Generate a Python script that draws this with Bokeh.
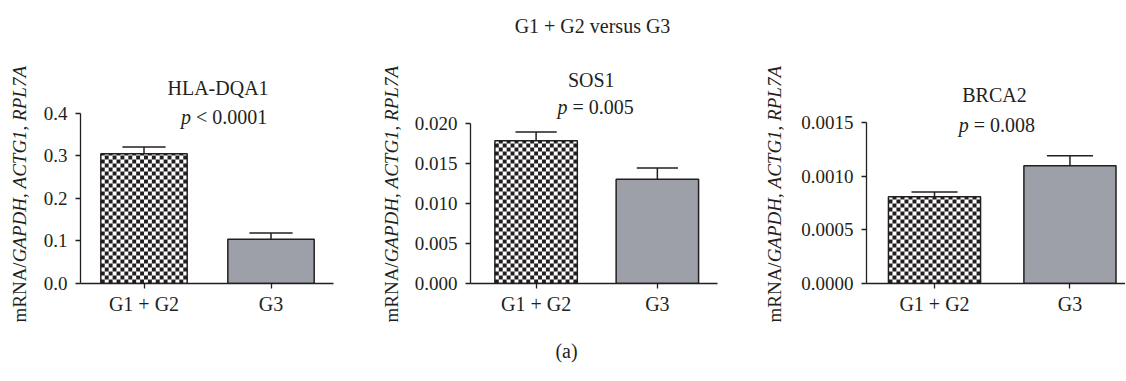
import numpy as np
from bokeh.plotting import figure
from bokeh.models import Range1d, FixedTicker, NumeralTickFormatter, Label, Div
from bokeh.layouts import column, row
from bokeh.core.properties import value
from bokeh.embed import file_html
from bokeh.resources import INLINE

# ---------------- data ----------------
groups = ["G1 + G2", "G3"]
genes = ["HLA-DQA1", "SOS1", "BRCA2"]
p_values = ["< 0.0001", "= 0.005", "= 0.008"]

hla_means = [0.305, 0.104]
hla_sem = [0.016, 0.015]
sos1_means = [0.0178, 0.0130]
sos1_sem = [0.0011, 0.0014]
brca2_means = [0.00081, 0.00110]
brca2_sem = [0.000045, 0.000093]

hla_ticks = [0.0, 0.1, 0.2, 0.3, 0.4]
sos1_ticks = [0.0, 0.005, 0.010, 0.015, 0.020]
brca2_ticks = [0.0, 0.0005, 0.0010, 0.0015]
tick_formats = ["0.0", "0.000", "0.0000"]

title_text = "G1 + G2 versus G3"
caption_text = "(a)"
ylabel_html = "mRNA/<i>GAPDH</i>, <i>ACTG1</i>, <i>RPL7A</i>"

# ---------------- style ----------------
INK = "#231f20"
GRAY = "#9da0a8"
FONT = "Liberation Serif"
EM = 20
LAB_EM = 19
# em widths of the p-value text remainders
p_rest_em = [3.564, 3.064, 3.064]

BAR_W = 0.68
ROW_H = 290
FRAME_H = 235
TOP_B = 10
BOT_B = 45

panels = [
    dict(means=hla_means, sem=hla_sem, ticks=hla_ticks, fmt=tick_formats[0],
         xr=(-0.5, 1.492), yend=0.5529, lab_w=32, lab_x=20, width=346, bl=48, br=45,
         gene_xy=(0.583, 0.459), p_xy=(0.63, 0.391)),
    dict(means=sos1_means, sem=sos1_sem, ticks=sos1_ticks, fmt=tick_formats[1],
         xr=(-0.541, 1.496), yend=0.02932, lab_w=24, lab_x=14, width=356, bl=68, br=41,
         gene_xy=(0.455, 0.02533), p_xy=(0.49, 0.02196)),
    dict(means=brca2_means, sem=brca2_sem, ticks=brca2_ticks, fmt=tick_formats[2],
         xr=(-0.502, 1.410), yend=0.002196, lab_w=28, lab_x=17, width=339, bl=80, br=0,
         gene_xy=(0.443, 0.001757), p_xy=(0.461, 0.001477)),
]


def checker(p, x0, x1, top, frame_w, xr, yr, cell_px=4):
    px_x = frame_w / (xr[1] - xr[0])
    px_y = FRAME_H / (yr[1] - yr[0])
    ncol = max(1, int(round((x1 - x0) * px_x / cell_px)))
    cw = (x1 - x0) / ncol
    ch = cell_px / px_y
    nrow = int(np.ceil(top / ch))
    L, R, B, T = [], [], [], []
    for j in range(nrow):
        for i in range(ncol):
            if (i + j) % 2 == 0:
                L.append(x0 + i * cw)
                R.append(x0 + (i + 1) * cw)
                B.append(j * ch)
                T.append(min((j + 1) * ch, top))
    p.quad(left=L, right=R, bottom=B, top=T, fill_color=INK, line_color=None)


def label_div(w, x_center):
    line_h = 22
    pad_left = x_center - line_h // 2
    html = (
        f'<div style="width:{w}px;height:{ROW_H}px;box-sizing:border-box;'
        f'padding-top:22px;padding-left:{pad_left}px;display:flex;align-items:center;'
        f'justify-content:flex-start;overflow:visible;">'
        f'<div style="writing-mode:vertical-rl;transform:rotate(180deg);white-space:nowrap;'
        f"font-family:'{FONT}';font-size:{LAB_EM}px;line-height:{line_h}px;color:{INK};\">"
        f'{ylabel_html}</div></div>'
    )
    return Div(text=html, width=w, height=ROW_H, margin=0)


row_items = []
for k, cfg in enumerate(panels):
    row_items.append(label_div(cfg["lab_w"], cfg["lab_x"]))

    xr = cfg["xr"]
    yr = (0, cfg["yend"])
    frame_w = cfg["width"] - cfg["bl"] - cfg["br"]
    p = figure(width=cfg["width"], height=ROW_H, output_backend="svg", toolbar_location=None,
               x_range=Range1d(*xr), y_range=Range1d(*yr),
               min_border_left=cfg["bl"], min_border_right=cfg["br"],
               min_border_top=TOP_B, min_border_bottom=BOT_B)
    p.outline_line_color = None
    p.xgrid.visible = False
    p.ygrid.visible = False

    xs = list(range(len(groups)))
    means = cfg["means"]
    sem = cfg["sem"]
    lefts = [x - BAR_W / 2 for x in xs]
    rights = [x + BAR_W / 2 for x in xs]

    # bar 0: checkered, bar 1: gray
    p.quad(left=[lefts[0]], right=[rights[0]], bottom=[0], top=[means[0]],
           fill_color="white", line_color=None)
    checker(p, lefts[0], rights[0], means[0], frame_w, xr, yr)
    p.quad(left=[lefts[0]], right=[rights[0]], bottom=[0], top=[means[0]],
           fill_color=None, line_color=INK, line_width=1.5)
    p.quad(left=[lefts[1]], right=[rights[1]], bottom=[0], top=[means[1]],
           fill_color=GRAY, line_color=INK, line_width=1.5)

    # error bars (upper only)
    hi = [m + s for m, s in zip(means, sem)]
    p.segment(x0=xs, y0=means, x1=xs, y1=hi, line_color=INK, line_width=1.5)
    p.segment(x0=[x - BAR_W / 4 for x in xs], y0=hi, x1=[x + BAR_W / 4 for x in xs], y1=hi,
              line_color=INK, line_width=1.5)

    # axes
    xa = p.xaxis[0]
    xa.ticker = FixedTicker(ticks=xs)
    xa.major_label_overrides = {i: g for i, g in enumerate(groups)}
    xa.minor_tick_line_color = None
    xa.major_tick_in = 0
    xa.major_tick_out = 5
    xa.axis_line_color = INK
    xa.axis_line_width = 1.3
    xa.major_tick_line_color = INK
    xa.major_tick_line_width = 1.3
    xa.major_label_text_font = FONT
    xa.major_label_text_font_size = "20px"
    xa.major_label_text_color = INK
    xa.major_label_standoff = 4

    ya = p.yaxis[0]
    ya.ticker = FixedTicker(ticks=cfg["ticks"])
    ya.formatter = NumeralTickFormatter(format=cfg["fmt"])
    ya.bounds = (cfg["ticks"][0], cfg["ticks"][-1])
    ya.minor_tick_line_color = None
    ya.major_tick_in = 0
    ya.major_tick_out = 5
    ya.axis_line_color = INK
    ya.axis_line_width = 1.3
    ya.major_tick_line_color = INK
    ya.major_tick_line_width = 1.3
    ya.major_label_text_font = FONT
    ya.major_label_text_font_size = "19px"
    ya.major_label_text_color = INK
    ya.major_label_standoff = 8

    # gene name
    gx, gy = cfg["gene_xy"]
    p.add_layout(Label(x=gx, y=gy, text=genes[k], text_align="center", text_baseline="middle",
                       text_font=FONT, text_font_size=f"{EM}px", text_color=INK))
    # p-value text
    px_, py_ = cfg["p_xy"]
    W = (0.5 + 0.25 + p_rest_em[k]) * EM
    p.add_layout(Label(x=px_, y=py_, x_offset=-W / 2, text="p", text_align="left",
                       text_baseline="middle", text_font=FONT, text_font_size=f"{EM}px",
                       text_font_style="italic", text_color=INK))
    p.add_layout(Label(x=px_, y=py_, x_offset=-W / 2 + 0.75 * EM, text=p_values[k],
                       text_align="left", text_baseline="middle", text_font=FONT,
                       text_font_size=f"{EM}px", text_color=INK))
    row_items.append(p)


def text_fig(h, txt, x, y):
    f = figure(width=1125, height=h, output_backend="svg", toolbar_location=None,
               x_range=Range1d(0, 1125), y_range=Range1d(0, h),
               x_axis_type=None, y_axis_type=None, min_border=0)
    f.outline_line_color = None
    f.xgrid.visible = False
    f.ygrid.visible = False
    f.text(x=[x], y=[y], text=[txt], text_align="center", text_baseline="middle",
           text_font=value(FONT), text_font_size="20px", text_color=INK)
    return f


title_fig = text_fig(38, title_text, 592, 13)
cap_fig = text_fig(52, caption_text, 566, 30)

layout = column(title_fig, row(*row_items), cap_fig)
open("out.html", "w").write(file_html(layout, INLINE))
